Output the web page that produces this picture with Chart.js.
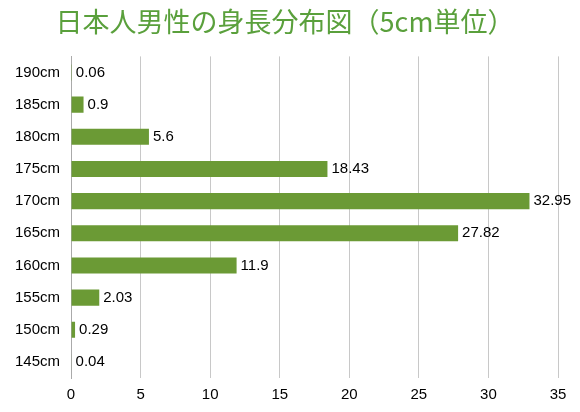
<!DOCTYPE html>
<html>
<head>
<meta charset="utf-8">
<script src="https://cdn.jsdelivr.net/npm/chart.js@4"></script>
<style>
body{margin:0;background:#fff;}
#wrap{width:580px;height:412px;position:relative;}
</style>
</head>
<body>
<div id="wrap"><canvas id="chart"></canvas></div>
<script>
const title = "日本人男性の身長分布図（5cm単位）";
const categories = ["190cm","185cm","180cm","175cm","170cm","165cm","160cm","155cm","150cm","145cm"];
const values = [0.06,0.9,5.6,18.43,32.95,27.82,11.9,2.03,0.29,0.04];
const xTicks = [0,5,10,15,20,25,30,35];

// value labels to the right of each bar
const barLabels = {
id:"barLabels",
afterDatasetsDraw(c){
const ctx = c.ctx;
const meta = c.getDatasetMeta(0);
ctx.save();
ctx.font = "15px 'Liberation Sans', Arial";
ctx.fillStyle = "#000";
ctx.textBaseline = "middle";
meta.data.forEach((b,i)=>{
ctx.fillText(String(values[i]), b.x+4, b.y);
});
ctx.restore();
}
};

new Chart(document.getElementById("chart"),{
type:"bar",
data:{labels:categories,datasets:[{data:values,backgroundColor:"#6b9a35",barPercentage:0.5,categoryPercentage:1}]},
options:{
indexAxis:"y",
responsive:true,maintainAspectRatio:false,animation:false,
layout:{padding:{left:12,right:22,top:4,bottom:0}},
plugins:{
legend:{display:false},tooltip:{enabled:false},
title:{display:true,text:title,color:"#5aa03c",font:{size:27,family:"'Noto Sans CJK JP'",weight:"normal"},padding:{top:2,bottom:18}}
},
scales:{
x:{min:0,max:35,afterBuildTicks(s){s.ticks=xTicks.map(v=>({value:v}));},
grid:{color:"#c8c8c8",drawTicks:false},border:{display:false},
ticks:{color:"#000",font:{size:15,family:"'Liberation Sans', Arial"},padding:8}},
y:{grid:{display:false},border:{color:"#aaa"},
ticks:{color:"#000",font:{size:15,family:"'Liberation Sans', Arial"}}}
}
},
plugins:[barLabels]
});
</script>
</body>
</html>
